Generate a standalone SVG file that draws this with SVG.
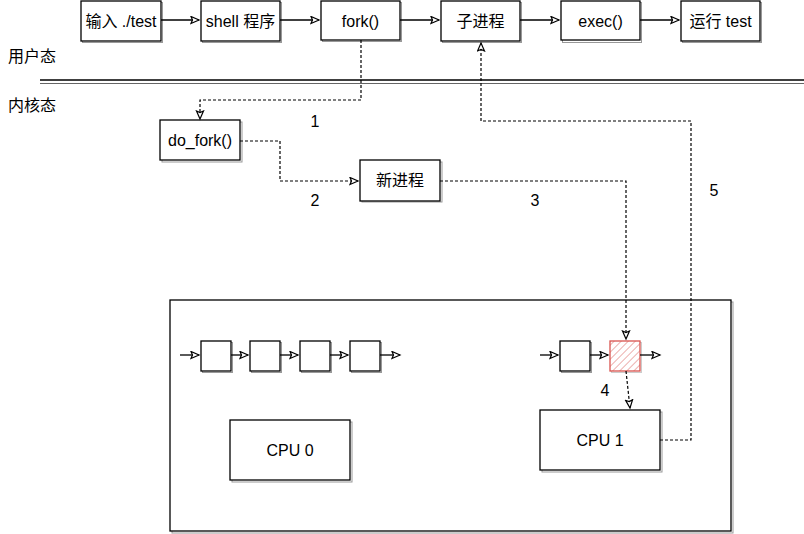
<svg xmlns="http://www.w3.org/2000/svg" width="804" height="534" viewBox="0 0 804 534">
<style>
  .box { fill: #fff; stroke: #000; stroke-width: 1.3; }
  .shadow { fill: none; stroke: #999; stroke-width: 1; }
  .t { font-family: "Liberation Sans", "Noto Sans CJK SC", sans-serif; font-size: 16px; fill: #000; }
  .c { text-anchor: middle; dominant-baseline: central; }
  .solid { fill: none; stroke: #000; stroke-width: 1.3; }
  .dash { fill: none; stroke: #000; stroke-width: 1.2; stroke-dasharray: 3 2; }
</style>
<defs>
  <marker id="arr" markerUnits="userSpaceOnUse" markerWidth="11" markerHeight="10" refX="9" refY="4.5" orient="auto" viewBox="0 0 11 10">
    <path d="M1,1 L9,4.5 L1,8 L2.5,4.5 Z" fill="#fff" stroke="#000" stroke-width="1.2"/>
  </marker>
  <pattern id="hatch" patternUnits="userSpaceOnUse" width="5" height="5" patternTransform="rotate(45)">
    <rect width="5" height="5" fill="#fff"/>
    <line x1="0" y1="0" x2="0" y2="5" stroke="#e07b78" stroke-width="1.2"/>
  </pattern>
</defs>

<!-- layer labels and separator -->
<g id="labels">
  <text class="t" x="8" y="62">用户态</text>
  <text class="t" x="8" y="111">内核态</text>
  <line x1="40" y1="80" x2="804" y2="80" stroke="#000" stroke-width="1.3"/>
  <line x1="40" y1="83.5" x2="804" y2="83.5" stroke="#666" stroke-width="1"/>
</g>

<!-- top nodes -->
<g id="n-input"><rect class="shadow" x="82.5" y="2.5" width="80" height="40"/><rect class="box" x="81" y="1" width="80" height="40"/><text class="t c" x="121" y="21">输入 ./test</text></g>
<g id="n-shell"><rect class="shadow" x="202.5" y="2.5" width="79" height="40"/><rect class="box" x="201" y="1" width="79" height="40"/><text class="t c" x="240.5" y="21">shell 程序</text></g>
<g id="n-fork"><rect class="shadow" x="322.5" y="2.5" width="79" height="39"/><rect class="box" x="321" y="1" width="79" height="39"/><text class="t c" x="360.5" y="21">fork()</text></g>
<g id="n-child"><rect class="shadow" x="442.5" y="2.5" width="79" height="40"/><rect class="box" x="441" y="1" width="79" height="40"/><text class="t c" x="480.5" y="21">子进程</text></g>
<g id="n-exec"><rect class="shadow" x="562.5" y="2.5" width="79" height="40"/><rect class="box" x="561" y="1" width="79" height="39"/><text class="t c" x="600.5" y="21">exec()</text></g>
<g id="n-run"><rect class="shadow" x="682.5" y="2.5" width="79" height="40"/><rect class="box" x="681" y="1" width="79" height="40"/><text class="t c" x="720.5" y="21">运行 test</text></g>

<!-- kernel nodes -->
<g id="n-dofork"><rect class="shadow" x="162" y="122" width="80" height="40"/><rect class="box" x="160" y="120" width="80" height="40"/><text class="t c" x="200" y="140">do_fork()</text></g>
<g id="n-newproc"><rect class="shadow" x="362" y="162" width="80" height="40"/><rect class="box" x="360" y="160" width="80" height="41"/><text class="t c" x="400" y="180.5">新进程</text></g>

<!-- container -->
<g id="n-system">
  <rect class="shadow" x="172" y="302" width="561" height="231"/>
  <rect class="box" x="170" y="300" width="561" height="231" fill="none"/>
</g>

<!-- run queue CPU0 -->
<g id="n-q0-1"><rect class="shadow" x="202.5" y="342.5" width="30" height="30"/><rect class="box" x="201" y="341" width="30" height="30"/></g>
<g id="n-q0-2"><rect class="shadow" x="251.5" y="342.5" width="30" height="30"/><rect class="box" x="250" y="341" width="30" height="30"/></g>
<g id="n-q0-3"><rect class="shadow" x="301.5" y="342.5" width="30" height="30"/><rect class="box" x="300" y="341" width="30" height="30"/></g>
<g id="n-q0-4"><rect class="shadow" x="351.5" y="342.5" width="30" height="30"/><rect class="box" x="350" y="341" width="30" height="30"/></g>

<!-- run queue CPU1 -->
<g id="n-q1-1"><rect class="shadow" x="561.5" y="342.5" width="30" height="30"/><rect class="box" x="560" y="341" width="30" height="30"/></g>
<g id="n-q1-new"><rect x="611.5" y="342.5" width="30" height="30" fill="none" stroke="#ccc" stroke-width="1"/><rect x="610" y="341" width="30" height="30" fill="url(#hatch)" stroke="#d9534f" stroke-width="1.3"/></g>

<!-- CPUs -->
<g id="n-cpu0"><rect class="shadow" x="232" y="422" width="120" height="60"/><rect class="box" x="230" y="420" width="120" height="60"/><text class="t c" x="290" y="450">CPU 0</text></g>
<g id="n-cpu1"><rect class="shadow" x="542" y="412" width="120" height="60"/><rect class="box" x="540" y="410" width="120" height="60"/><text class="t c" x="600" y="440">CPU 1</text></g>

<!-- connectors -->
<g id="connectors">
  <path class="solid" d="M161,20 H199" marker-end="url(#arr)"/>
  <path class="solid" d="M280,20 H319" marker-end="url(#arr)"/>
  <path class="solid" d="M400,20 H439" marker-end="url(#arr)"/>
  <path class="solid" d="M520,20 H559" marker-end="url(#arr)"/>
  <path class="solid" d="M640,20 H679" marker-end="url(#arr)"/>

  <path class="dash" d="M361,40 V100 H200 V119" marker-end="url(#arr)"/>
  <path class="dash" d="M240,141 H280 V181 H358" marker-end="url(#arr)"/>
  <path class="dash" d="M440,181 H626 V339" marker-end="url(#arr)"/>
  <path class="dash" d="M626,371 L630,408" marker-end="url(#arr)"/>
  <path class="dash" d="M660,440 H691 V121 H481 V43" marker-end="url(#arr)"/>

  <path class="solid" d="M180,355 H199" marker-end="url(#arr)"/>
  <path class="solid" d="M231,355 H248" marker-end="url(#arr)"/>
  <path class="solid" d="M280,355 H298" marker-end="url(#arr)"/>
  <path class="solid" d="M330,355 H348" marker-end="url(#arr)"/>
  <path class="solid" d="M380,355 H400" marker-end="url(#arr)"/>

  <path class="solid" d="M540,355 H558" marker-end="url(#arr)"/>
  <path class="solid" d="M590,355 H608" marker-end="url(#arr)"/>
  <path class="solid" d="M640,355 H660" marker-end="url(#arr)"/>

  <text class="t c" x="315" y="121">1</text>
  <text class="t c" x="315" y="200">2</text>
  <text class="t c" x="535" y="200">3</text>
  <text class="t c" x="605" y="390">4</text>
  <text class="t c" x="714" y="190">5</text>
</g>
</svg>
